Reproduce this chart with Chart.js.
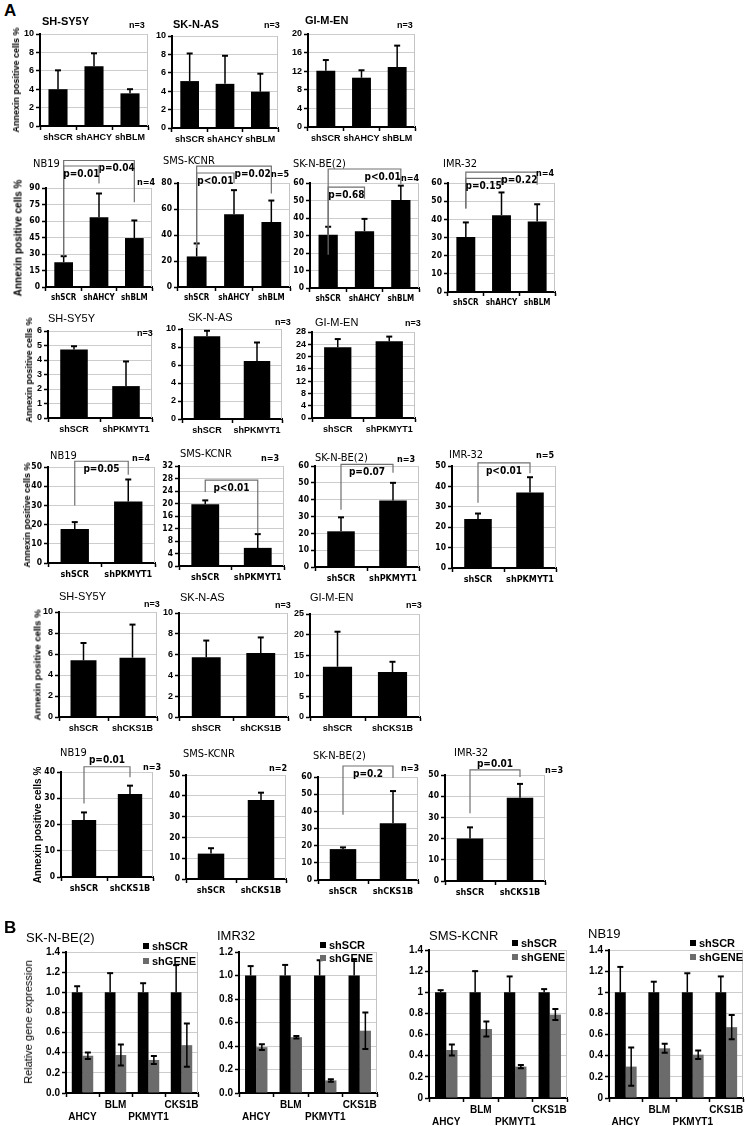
<!DOCTYPE html>
<html>
<head>
<meta charset="utf-8">
<script src="https://cdn.jsdelivr.net/npm/chart.js@4.4.1/dist/chart.umd.min.js"></script>
<style>
  body { margin: 0; background: #fff; width: 745px; height: 1126px; position: relative; overflow: hidden; }
  canvas { position: absolute; }
  .t { position: absolute; white-space: nowrap; line-height: 1; color: #000; transform: translateY(-50%); }
  .c { transform: translate(-50%, -50%); }
  .rot { transform: translate(-50%, -50%) rotate(-90deg); }
  .sq { position: absolute; width: 6px; height: 6px; }
</style>
</head>
<body>
<script>
// ---------- data ----------

const groupsAHCY = ["shSCR", "shAHCY", "shBLM"];
const groupsPKMYT1 = ["shSCR", "shPKMYT1"];
const groupsCKS1B = ["shSCR", "shCKS1B"];
const linesSmall = ["SH-SY5Y", "SK-N-AS", "GI-M-EN"];
const linesBig = ["NB19", "SMS-KCNR", "SK-N-BE(2)", "IMR-32"];

// shAHCY / shBLM
const ahcyValues1 = [[4.0, 6.5, 3.55], [5.1, 4.8, 3.95], [12.1, 10.6, 12.9]];
const ahcyErrors1 = [[2.05, 1.4, 0.45], [3.0, 3.05, 1.95], [2.3, 1.6, 4.6]];
const ahcyMax1 = [10, 10, 20];
const ahcyStep1 = [2, 2, 4];
const ahcyN1 = ["n=3", "n=3", "n=3"];

const ahcyValues2 = [[22.5, 63.5, 44.5], [23.5, 56, 50], [30.5, 32.5, 50.3], [30.3, 42.3, 38.8]];
const ahcyErrors2 = [[5.5, 21.5, 16], [10, 18.5, 16.5], [4.5, 7, 8.2], [8, 12.5, 9.5]];
const ahcyMax2 = [90, 80, 60, 60];
const ahcyStep2 = [15, 20, 10, 10];
const ahcyN2 = ["n=4", "n=5", "n=4", "n=4"];
// p-value brackets: [from, to, top, left leg end, right leg end, label, text above line]
const ahcyP2 = [
  [[0, 2, 115, 28, 77, "p=0.04"], [0, 1, 110, 28, 94, "p=0.01"]],
  [[0, 2, 93, 30, 72, "p=0.02"], [0, 1, 87.7, 30, 80, "p<0.01"]],
  [[0, 2, 68, 19, 59.5, "p<0.01"], [0, 1, 57.7, 35, 51, "p=0.68"]],
  [[0, 2, 66, 46, 59, "p=0.22"], [0, 1, 62.6, 46, 59, "p=0.15"]]
];

// shPKMYT1
const pkValues1 = [[4.72, 2.2], [9.2, 6.45], [23, 25]];
const pkErrors1 = [[0.23, 1.7], [0.6, 2.05], [2.7, 1.5]];
const pkMax1 = [6, 10, 28];
const pkStep1 = [1, 2, 4];
const pkN1 = ["n=3", "n=3", "n=3"];

const pkValues2 = [[17.7, 32], [19.8, 5.8], [21.2, 39.5], [24, 37]];
const pkErrors2 = [[3.6, 11.5], [1.2, 4.4], [8.3, 10.5], [2.7, 7.5]];
const pkMax2 = [50, 32, 60, 50];
const pkStep2 = [10, 4, 10, 10];
const pkN2 = ["n=4", "n=3", "n=3", "n=5"];
const pkP2 = [
  [[0, 1, 53, 30, 46, "p=0.05"]],
  [[0, 1, 27.5, 23.7, 10.5, "p<0.01"]],
  [[0, 1, 61, 34, 56, "p=0.07"]],
  [[0, 1, 51.5, 32, 46.5, "p<0.01"]]
];

// shCKS1B
const cksValues1 = [[5.4, 5.65], [5.75, 6.15], [12.2, 10.9]];
const cksErrors1 = [[1.65, 3.15], [1.6, 1.5], [8.5, 2.5]];
const cksMax1 = [10, 10, 25];
const cksStep1 = [2, 2, 5];
const cksN1 = ["n=3", "n=3", "n=3"];

const cksValues2 = [[21.7, 31.6], [12.2, 38], [18, 33], [20, 39.3]];
const cksErrors2 = [[2.9, 3.2], [2.6, 3.5], [1, 18.8], [5.3, 6.5]];
const cksMax2 = [40, 50, 60, 50];
const cksStep2 = [10, 10, 10, 10];
const cksN2 = ["n=3", "n=2", "n=3", "n=3"];
const cksP2 = [
  [[0, 1, 42, 28, 38, "p=0.01", true]],
  [],
  [[0, 1, 66.4, 38, 59.5, "p=0.2"]],
  [[0, 1, 52.4, 32, 49, "p=0.01", true]]
];

// panel B: knockdown efficiency
const genes = ["AHCY", "BLM", "PKMYT1", "CKS1B"];
const linesB = ["SK-N-BE(2)", "IMR32", "SMS-KCNR", "NB19"];
const seriesB = ["shSCR", "shGENE"];
const scrB = [[1, 1, 1, 1], [1, 1, 1, 1], [1, 1, 1, 1], [1, 1, 1, 1]];
const scrErrB = [[0.06, 0.19, 0.09, 0.27], [0.08, 0.09, 0.13, 0.135], [0.02, 0.2, 0.15, 0.03], [0.24, 0.1, 0.18, 0.15]];
const geneB = [[0.37, 0.377, 0.328, 0.475], [0.39, 0.475, 0.107, 0.53], [0.454, 0.653, 0.297, 0.789], [0.297, 0.47, 0.41, 0.67]];
const geneErrB = [[0.033, 0.105, 0.04, 0.215], [0.024, 0.011, 0.011, 0.155], [0.052, 0.071, 0.016, 0.052], [0.18, 0.043, 0.04, 0.115]];
const maxB = [1.4, 1.2, 1.4, 1.4];
const decimalsB = [1, 1, 0, 0];

// ---------- layout: plot boxes [left, right, top, bottom] and text spots ----------

const plotR1 = [[40, 148, 34, 126], [172, 278, 36, 128], [308, 415, 34, 127]];
const plotR2 = [[46, 152, 188, 287], [178, 290, 183, 287], [310, 419, 183, 288], [448, 555, 183, 292]];
const plotR3 = [[48, 152, 331, 418], [182, 282, 329, 419], [312, 415, 332, 418]];
const plotR4 = [[48, 155, 467, 563], [179, 284, 466, 566], [315, 419, 466, 567], [452, 556, 466, 568]];
const plotR5 = [[59, 157, 612, 717], [179, 288, 613, 717], [310, 420, 614, 717]];
const plotR6 = [[61, 153, 772, 877], [186, 286, 775, 879], [318, 418, 777, 880], [445, 545, 775, 881]];
const plotB = [[66, 198, 951.6, 1093], [239, 377, 951.6, 1093], [429, 567, 949.5, 1097.3], [609, 743, 949.5, 1097.3]];

const titleR1 = [[42, 21], [173, 24], [305, 20]];
const titleR2 = [[33, 163], [163, 160], [293, 163], [443, 163]];
const titleR3 = [[48, 318], [188, 317], [315, 322]];
const titleR4 = [[50, 455], [180, 453], [315, 457], [449, 454]];
const titleR5 = [[59, 596], [180, 597], [310, 597]];
const titleR6 = [[60, 752], [183, 753], [313, 755], [454, 752]];
const titleB = [[26, 937], [217, 935], [429, 935], [588, 933]];

const nR1 = [[137, 25], [272, 25], [405, 25]];
const nR2 = [[146, 182], [280, 174], [410, 178], [545, 173]];
const nR3 = [[145, 333], [283, 322], [413, 323]];
const nR4 = [[141, 458], [270, 458], [406, 459], [545, 455]];
const nR5 = [[152, 604], [283, 605], [414, 605]];
const nR6 = [[152, 767], [278, 768], [410, 768], [554, 770]];
const legendB = [[143, 946, 961], [320, 945, 958], [512, 943, 957], [690, 943, 957]];

const SANS = '"Liberation Sans", Arial, sans-serif';
const NARROW = '"Liberation Sans Narrow", "DejaVu Sans Condensed", "Liberation Sans", sans-serif';
const YW = 28, XH = 30, PT = 50, PR = 6;

Chart.defaults.color = "#000";

// ---------- helpers ----------

function addText(str, x, y, font, cls) {
  const d = document.createElement("div");
  d.className = "t" + (cls ? " " + cls : "");
  d.textContent = str;
  d.style.left = x + "px";
  d.style.top = y + "px";
  d.style.font = font;
  document.body.appendChild(d);
  return d;
}

function addCanvas(box) {
  const [l, r, t, b] = box;
  const c = document.createElement("canvas");
  const w = Math.round(YW + (r - l) + PR), h = Math.round(PT + (b - t) + XH);
  c.width = w; c.height = h;
  c.style.left = (l - YW) + "px";
  c.style.top = (t - PT) + "px";
  c.style.width = w + "px";
  c.style.height = h + "px";
  document.body.appendChild(c);
  return c;
}

// frame on the right, error bars and p-value brackets
const marks = {
  id: "marks",
  beforeDatasetsDraw(chart) {
    const { ctx, chartArea: a } = chart;
    ctx.save();
    ctx.strokeStyle = "#c4c4c4";
    ctx.lineWidth = 1;
    ctx.beginPath();
    ctx.moveTo(a.right - 0.5, a.top);
    ctx.lineTo(a.right - 0.5, a.bottom);
    ctx.stroke();
    ctx.restore();
  },
  afterDatasetsDraw(chart) {
    const ctx = chart.ctx, ys = chart.scales.y, xs = chart.scales.x;
    ctx.save();
    chart.data.datasets.forEach((ds, di) => {
      chart.getDatasetMeta(di).data.forEach((bar, i) => {
        const v = ds.data[i], e = ds.errors[i];
        const hi = ys.getPixelForValue(v + e);
        const lo = ds.twoSided ? ys.getPixelForValue(v - e) : bar.y;
        ctx.strokeStyle = "#000";
        ctx.lineWidth = 1.5;
        ctx.beginPath();
        ctx.moveTo(bar.x, lo);
        ctx.lineTo(bar.x, hi);
        ctx.stroke();
        ctx.lineWidth = 2;
        ctx.beginPath();
        ctx.moveTo(bar.x - 3, hi);
        ctx.lineTo(bar.x + 3, hi);
        if (ds.twoSided) {
          ctx.moveTo(bar.x - 3, lo);
          ctx.lineTo(bar.x + 3, lo);
        }
        ctx.stroke();
      });
    });
    const first = chart.data.datasets[0];
    (first.brackets || []).forEach(([from, to, top, endL, endR, label, above]) => {
      const x1 = xs.getPixelForValue(from), x2 = xs.getPixelForValue(to);
      const yt = ys.getPixelForValue(top);
      ctx.strokeStyle = "#707070";
      ctx.lineWidth = 1.2;
      ctx.beginPath();
      ctx.moveTo(x1, ys.getPixelForValue(endL));
      ctx.lineTo(x1, yt);
      ctx.lineTo(x2, yt);
      ctx.lineTo(x2, ys.getPixelForValue(endR));
      ctx.stroke();
      ctx.fillStyle = "#000";
      ctx.font = first.pFont;
      ctx.textAlign = "center";
      ctx.textBaseline = "middle";
      const xm = (xs.getPixelForValue(to - 1) + x2) / 2;
      ctx.fillText(label, xm, above ? yt - 6 : yt + 8);
    });
    ctx.restore();
  }
};

function chartOptions(max, step, yFont, xFont, yFormat, xFormat) {
  return {
    responsive: false,
    animation: false,
    events: [],
    layout: { padding: { top: PT, right: PR, left: 0, bottom: 0 } },
    plugins: { legend: { display: false }, tooltip: { enabled: false } },
    scales: {
      x: {
        grid: { offset: true, drawOnChartArea: false, tickLength: 4, tickColor: "#000", tickWidth: 1.5 },
        border: { color: "#000", width: 2 },
        ticks: { font: xFont, color: "#000", padding: 2, maxRotation: 0, autoSkip: false, callback: xFormat },
        afterFit: s => { s.height = XH; }
      },
      y: {
        min: 0,
        max: max,
        ticks: { stepSize: step, autoSkip: false, font: yFont, color: "#000", padding: 2, callback: yFormat },
        grid: {
          color: c => (c.tick && c.tick.value === 0 ? "rgba(0,0,0,0)" : "#cdcdcd"),
          tickColor: "#000", tickLength: 4, tickWidth: 1.5
        },
        border: { color: "#000", width: 2 },
        afterFit: s => { s.width = YW; }
      }
    }
  };
}

function plainLabel(val) { return this.getLabelForValue(val); }

// ---------- panel A ----------

const rowsA = [
  { lines: linesSmall, groups: groupsAHCY, values: ahcyValues1, errors: ahcyErrors1, max: ahcyMax1, step: ahcyStep1, n: ahcyN1, p: [], plot: plotR1, title: titleR1, nPos: nR1, narrow: false, bold: true, yTitle: [16, 80, 9] },
  { lines: linesBig, groups: groupsAHCY, values: ahcyValues2, errors: ahcyErrors2, max: ahcyMax2, step: ahcyStep2, n: ahcyN2, p: ahcyP2, plot: plotR2, title: titleR2, nPos: nR2, narrow: true, xSize: 8, yTitle: [18, 238, 10] },
  { lines: linesSmall, groups: groupsPKMYT1, values: pkValues1, errors: pkErrors1, max: pkMax1, step: pkStep1, n: pkN1, p: [], plot: plotR3, title: titleR3, nPos: nR3, narrow: false, yTitle: [29, 370, 9] },
  { lines: linesBig, groups: groupsPKMYT1, values: pkValues2, errors: pkErrors2, max: pkMax2, step: pkStep2, n: pkN2, p: pkP2, plot: plotR4, title: titleR4, nPos: nR4, narrow: true, xSize: 9, yTitle: [27, 515, 9] },
  { lines: linesSmall, groups: groupsCKS1B, values: cksValues1, errors: cksErrors1, max: cksMax1, step: cksStep1, n: cksN1, p: [], plot: plotR5, title: titleR5, nPos: nR5, narrow: false, yTitle: [37, 665, 9.5] },
  { lines: linesBig, groups: groupsCKS1B, values: cksValues2, errors: cksErrors2, max: cksMax2, step: cksStep2, n: cksN2, p: cksP2, plot: plotR6, title: titleR6, nPos: nR6, narrow: true, xSize: 9, yTitle: [37, 825, 10] }
];

addText("A", 4, 11, "bold 17px " + SANS);

rowsA.forEach(row => {
  const yFont = row.narrow ? { family: NARROW, size: 8.5, weight: "bold" } : { family: SANS, size: 9, weight: "bold" };
  const xFont = row.narrow ? { family: NARROW, size: row.xSize, weight: "bold" } : { family: SANS, size: 9, weight: "bold" };
  const titleFont = row.narrow ? "11px " + NARROW : (row.bold ? "bold 11px " : "11px ") + SANS;
  const nFont = row.narrow ? "bold 9px " + NARROW : "bold 9px " + SANS;
  const pFont = "bold 10px " + NARROW;

  row.lines.forEach((name, k) => {
    const canvas = addCanvas(row.plot[k]);
    new Chart(canvas, {
      type: "bar",
      data: {
        labels: row.groups,
        datasets: [{
          data: row.values[k],
          errors: row.errors[k],
          brackets: row.p[k] || [],
          pFont: pFont,
          backgroundColor: "#000",
          borderWidth: 0,
          barPercentage: 0.53,
          categoryPercentage: 1
        }]
      },
      options: chartOptions(row.max[k], row.step[k], yFont, xFont, v => v, plainLabel),
      plugins: [marks]
    });
    addText(name, row.title[k][0], row.title[k][1], titleFont);
    addText(row.n[k], row.nPos[k][0], row.nPos[k][1], nFont, "c");
  });

  const [yx, yy, ys] = row.yTitle;
  addText("Annexin positive cells %", yx, yy, "bold " + ys + "px " + SANS, "rot");
});

// ---------- panel B ----------

addText("B", 4, 928, "bold 17px " + SANS);

linesB.forEach((name, k) => {
  const canvas = addCanvas(plotB[k]);
  const font = { family: SANS, size: 10, weight: "bold" };
  const dec = decimalsB[k];
  new Chart(canvas, {
    type: "bar",
    data: {
      labels: genes,
      datasets: [
        { label: seriesB[0], data: scrB[k], errors: scrErrB[k], backgroundColor: "#000", borderWidth: 0, barPercentage: 1, categoryPercentage: 0.65 },
        { label: seriesB[1], data: geneB[k], errors: geneErrB[k], twoSided: true, backgroundColor: "#6b6b6b", borderWidth: 0, barPercentage: 1, categoryPercentage: 0.65 }
      ]
    },
    options: chartOptions(maxB[k], 0.2, font, font,
      v => (dec ? Number(v).toFixed(dec) : String(Math.round(v * 10) / 10)),
      function (val, i) {
        const s = this.getLabelForValue(val);
        return i % 2 === 0 ? ["", s] : s;
      }),
    plugins: [marks]
  });
  addText(name, titleB[k][0], titleB[k][1], "13px " + SANS);

  const [lx, ly1, ly2] = legendB[k];
  [[seriesB[0], "#000", ly1], [seriesB[1], "#6b6b6b", ly2]].forEach(([lab, col, ly]) => {
    const sq = document.createElement("div");
    sq.className = "sq";
    sq.style.left = lx + "px";
    sq.style.top = (ly - 3) + "px";
    sq.style.background = col;
    document.body.appendChild(sq);
    addText(lab, lx + 9, ly, "bold 11px " + SANS);
  });
});

addText("Relative gene expression", 28, 1022, "11px " + SANS, "rot");
</script>
</body>
</html>
